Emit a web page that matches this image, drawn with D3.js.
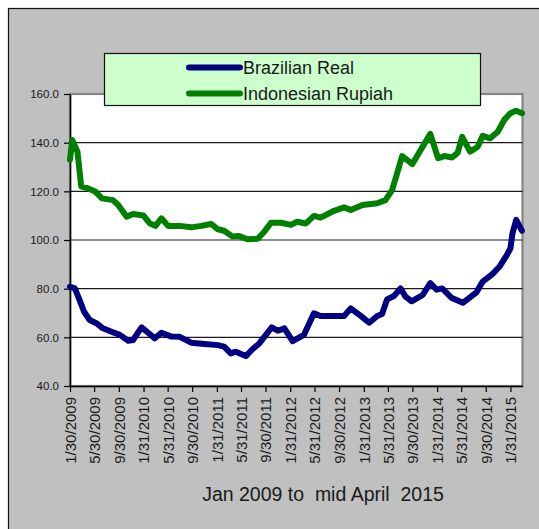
<!DOCTYPE html>
<html>
<head>
<meta charset="utf-8">
<script src="https://cdn.jsdelivr.net/npm/d3@7"></script>
<style>
  html, body { margin: 0; padding: 0; background: #ffffff; }
  svg { display: block; font-family: "Liberation Sans", Arial, sans-serif; }
</style>
</head>
<body>
<div id="chart"></div>
<script>
// ---------- data ----------
const seriesNames = ["Brazilian Real", "Indonesian Rupiah"];

const realDates = ["2009-01-30","2009-02-23","2009-03-19","2009-04-10","2009-05-08","2009-06-10","2009-07-13","2009-08-25","2009-10-05","2009-11-16","2009-12-10","2010-01-21","2010-02-23","2010-03-27","2010-04-30","2010-06-19","2010-07-30","2010-09-25","2010-11-30","2011-02-05","2011-03-08","2011-04-10","2011-05-05","2011-06-24","2011-07-27","2011-08-30","2011-10-02","2011-10-31","2011-11-30","2012-01-02","2012-02-12","2012-04-08","2012-05-28","2012-06-30","2012-10-25","2012-11-27","2013-01-16","2013-02-27","2013-04-08","2013-05-02","2013-05-27","2013-06-30","2013-08-02","2013-08-27","2013-09-26","2013-11-20","2013-12-28","2014-01-29","2014-02-25","2014-04-12","2014-06-08","2014-08-15","2014-09-15","2014-11-02","2014-12-07","2015-01-13","2015-01-31","2015-02-10","2015-03-01","2015-03-29"];
const realValues = [80.8,80.1,75.3,70.5,67.1,65.8,63.7,62.3,61.0,58.6,58.9,64.1,61.9,59.6,61.9,60.3,60.2,57.8,57.3,56.8,56.2,53.4,54.1,52.3,55.1,57.5,61.0,64.1,62.7,63.7,58.4,61.0,69.9,68.8,68.8,71.9,68.8,66.0,68.8,69.6,75.6,77.0,80.1,76.7,74.8,77.4,82.3,79.6,80.1,76.3,74.2,78.5,82.9,86.0,89.0,93.8,96.6,102.7,108.3,103.8];

const rupiahDates = ["2009-01-30","2009-02-10","2009-03-08","2009-03-27","2009-04-30","2009-06-05","2009-07-08","2009-09-01","2009-09-27","2009-11-08","2009-12-10","2010-01-30","2010-03-02","2010-03-31","2010-04-30","2010-06-02","2010-07-30","2010-09-25","2010-11-14","2011-01-02","2011-02-05","2011-03-08","2011-04-19","2011-05-22","2011-07-02","2011-08-22","2011-09-24","2011-10-27","2011-12-15","2012-02-03","2012-03-06","2012-04-17","2012-05-28","2012-06-30","2012-09-05","2012-10-25","2012-11-27","2013-01-25","2013-04-08","2013-05-19","2013-06-21","2013-07-16","2013-08-10","2013-09-30","2013-11-05","2013-12-28","2014-02-05","2014-03-08","2014-04-15","2014-05-13","2014-06-05","2014-07-14","2014-08-21","2014-09-15","2014-10-22","2014-11-29","2015-01-02","2015-01-31","2015-02-28","2015-03-30"];
const rupiahValues = [133.0,141.1,136.3,122.0,121.2,119.9,117.1,116.4,114.4,109.6,110.7,110.1,106.9,105.8,108.9,105.8,105.8,105.2,105.8,106.6,104.4,103.8,101.4,101.6,100.3,100.5,103.4,107.1,107.1,106.2,107.5,106.8,109.9,109.2,112.0,113.4,112.3,114.4,115.1,116.4,120.5,127.4,134.5,131.2,136.3,143.6,133.6,134.5,133.9,135.8,142.4,136.3,138.3,142.8,141.8,144.5,149.6,152.1,153.1,152.1];

const xTickLabels = ["1/30/2009","5/30/2009","9/30/2009","1/31/2010","5/31/2010","9/30/2010","1/31/2011","5/31/2011","9/30/2011","1/31/2012","5/31/2012","9/30/2012","1/31/2013","5/31/2013","9/30/2013","1/31/2014","5/31/2014","9/30/2014","1/31/2015"];
const yTickValues = [40, 60, 80, 100, 120, 140, 160];
const xDomain = ["2009-01-30", "2015-04-01"];
const yDomain = [40, 160];
const axisTitle = "Jan 2009 to  mid April  2015";

// ---------- drawing ----------
(function () {
const W = 539, H = 529;
const parseISO = d3.timeParse("%Y-%m-%d");
const parseUS = d3.timeParse("%m/%d/%Y");

const svg = d3.select("#chart").append("svg")
  .attr("width", W).attr("height", H);

svg.append("rect").attr("x", 0).attr("y", 0).attr("width", W).attr("height", H).attr("fill", "#ffffff");

// chart area
svg.append("rect")
  .attr("x", 8.5).attr("y", 8.5).attr("width", W + 10).attr("height", H + 10)
  .attr("fill", "#c0c0c0").attr("stroke", "#111").attr("stroke-width", 1.2);

const pL = 70, pR = 522.5, pT = 94, pB = 386;
const x = d3.scaleTime().domain(xDomain.map(parseISO)).range([pL, pR]);
const y = d3.scaleLinear().domain(yDomain).range([pB, pT]);

// plot area
svg.append("rect")
  .attr("x", pL).attr("y", pT).attr("width", pR - pL).attr("height", pB - pT)
  .attr("fill", "#ffffff").attr("stroke", "#858585").attr("stroke-width", 2.2);

// gridlines
svg.append("g").selectAll("line")
  .data(yTickValues.filter(v => v > yDomain[0] && v < yDomain[1]))
  .join("line")
  .attr("x1", pL).attr("x2", pR)
  .attr("y1", d => y(d)).attr("y2", d => y(d))
  .attr("stroke", "#1a1a1a").attr("stroke-width", 1.2);

// y axis
const yAxis = svg.append("g")
  .attr("transform", `translate(${pL},0)`)
  .call(d3.axisLeft(y).tickValues(yTickValues).tickFormat(d3.format(".1f")).tickSize(6).tickSizeOuter(0).tickPadding(5));
yAxis.select(".domain").attr("stroke", "#000").attr("stroke-width", 1.6);
yAxis.selectAll(".tick line").attr("stroke", "#000").attr("stroke-width", 1.2);
yAxis.selectAll(".tick text").attr("font-size", "11.5px").attr("fill", "#1a1a1a")
  .attr("font-family", "'Liberation Sans', Arial, sans-serif");

// x axis
const xTickDates = xTickLabels.map(parseUS);
const xAxis = svg.append("g")
  .attr("transform", `translate(0,${pB})`)
  .call(d3.axisBottom(x).tickValues(xTickDates)
    .tickFormat((d, i) => xTickLabels[i]).tickSize(6).tickSizeOuter(0));
xAxis.select(".domain").attr("stroke", "#000").attr("stroke-width", 1.6);
xAxis.selectAll(".tick line").attr("stroke", "#000").attr("stroke-width", 1.2);
xAxis.selectAll(".tick text")
  .attr("font-size", "15px").attr("fill", "#1a1a1a")
  .attr("font-family", "'Liberation Sans', Arial, sans-serif")
  .attr("transform", "rotate(-90)")
  .attr("x", -11).attr("y", 0).attr("dy", "0.36em")
  .style("text-anchor", "end");

// lines
const line = d3.line().x(d => x(d[0])).y(d => y(d[1]));
const realData = realDates.map((d, i) => [parseISO(d), realValues[i]]);
const rupiahData = rupiahDates.map((d, i) => [parseISO(d), rupiahValues[i]]);
const colors = ["#000080", "#008000"];

[realData, rupiahData].forEach((data, i) => {
  svg.append("path").datum(data)
    .attr("d", line)
    .attr("fill", "none")
    .attr("stroke", colors[i])
    .attr("stroke-width", 6)
    .attr("stroke-linejoin", "round")
    .attr("stroke-linecap", "round");
});

// legend
const lg = svg.append("g");
lg.append("rect")
  .attr("x", 104.5).attr("y", 53.5).attr("width", 376).attr("height", 52)
  .attr("fill", "#ccffcc").attr("stroke", "#111").attr("stroke-width", 1.2);
seriesNames.forEach((name, i) => {
  const ly = 67.5 + i * 26;
  lg.append("line").attr("x1", 189).attr("x2", 240).attr("y1", ly).attr("y2", ly)
    .attr("stroke", colors[i]).attr("stroke-width", 6).attr("stroke-linecap", "round");
  lg.append("text").attr("x", 243).attr("y", ly + 6.4)
    .attr("font-size", "18px").attr("fill", "#1a1a1a").text(name);
});

// axis title
svg.append("text")
  .attr("x", 323).attr("y", 500.5)
  .attr("text-anchor", "middle")
  .attr("font-size", "19.5px").attr("fill", "#1a1a1a")
  .style("white-space", "pre")
  .text(axisTitle);
})();
</script>
</body>
</html>
